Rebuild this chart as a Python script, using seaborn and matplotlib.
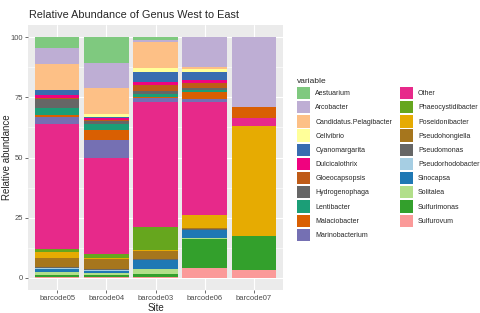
import pandas as pd
import matplotlib
matplotlib.use("Agg")
import matplotlib.pyplot as plt
import seaborn as sns
from matplotlib.patches import Patch
from matplotlib.ticker import MultipleLocator

sns.set_theme(style="darkgrid", rc={
    "axes.facecolor": "#EBEBEB",
    "grid.color": "white",
    "axes.edgecolor": "#EBEBEB",
})
plt.rcParams["font.family"] = ["Liberation Sans", "DejaVu Sans"]

sites = ["barcode05", "barcode04", "barcode03", "barcode06", "barcode07"]
genera = ["Aestuarium", "Arcobacter", "Candidatus.Pelagibacter", "Cellvibrio",
          "Cyanomargarita", "Dulcicalothrix", "Gloeocapsopsis", "Hydrogenophaga",
          "Lentibacter", "Malaciobacter", "Marinobacterium", "Other",
          "Phaeocystidibacter", "Poseidonibacter", "Pseudohongiella", "Pseudomonas",
          "Pseudorhodobacter", "Sinocapsa", "Solitalea", "Sulfurimonas", "Sulfurovum"]
cores = ["#7FC97F", "#BEAED4", "#FDC086", "#FFFF99", "#386CB0", "#F0027F",
         "#BF5B17", "#666666", "#1B9E77", "#D95F02", "#7570B3", "#E7298A",
         "#66A61E", "#E6AB02", "#A6761D", "#666666", "#A6CEE3", "#1F78B4",
         "#B2DF8A", "#33A02C", "#FB9A99"]

# abundancia (%) por genero, na ordem de 'genera'
barcode05 = [4.5, 6.5, 11.0, 0.0, 2.2, 1.2, 0.5, 3.5, 2.8, 1.0, 2.8, 51.8,
             1.5, 2.3, 3.7, 0.6, 0.2, 1.3, 1.2, 0.8, 0.6]
barcode04 = [10.8, 10.5, 10.7, 1.3, 0.3, 0.8, 0.6, 1.2, 2.5, 4.1, 7.5, 39.8,
             1.6, 0.5, 3.9, 0.8, 0.4, 0.7, 0.7, 1.0, 0.3]
barcode03 = [1.2, 0.8, 11.0, 1.4, 4.1, 1.4, 2.4, 1.4, 1.3, 0.3, 1.8, 51.8,
             9.4, 0.4, 3.4, 0.3, 0.3, 3.5, 2.0, 1.3, 0.5]
barcode06 = [0.0, 12.3, 1.0, 1.4, 3.0, 1.4, 2.2, 0.7, 1.0, 2.7, 1.4, 46.6,
             0.3, 5.4, 0.3, 0.2, 0.0, 3.7, 0.2, 12.2, 4.0]
barcode07 = [0.0, 29.2, 0.0, 0.0, 0.0, 0.0, 0.0, 0.0, 0.0, 4.5, 0.0, 3.1,
             0.0, 45.9, 0.0, 0.0, 0.0, 0.0, 0.0, 13.8, 3.5]

df = pd.DataFrame({"barcode05": barcode05, "barcode04": barcode04,
                   "barcode03": barcode03, "barcode06": barcode06,
                   "barcode07": barcode07}, index=genera)
# empilhamento estilo ggplot: primeiro nivel no topo, ultimo na base
cum = df.iloc[::-1].cumsum().iloc[::-1]

fig = plt.figure(figsize=(4.8, 3.13), dpi=100)
ax = fig.add_axes([28 / 480, 23 / 313, 255 / 480, 265 / 313])

for g, c in zip(genera, cores):
    sns.barplot(x=sites, y=cum.loc[g].values, color=c, saturation=1,
                width=0.9, linewidth=0, ax=ax, order=sites)

ax.set_xlim(-0.6, 4.6)
ax.set_ylim(-5, 105)
ax.yaxis.set_major_locator(MultipleLocator(25))
ax.yaxis.set_minor_locator(MultipleLocator(12.5))
ax.grid(which="major", color="white", linewidth=0.8)
ax.grid(which="minor", axis="y", color="white", linewidth=0.4)
ax.set_axisbelow(True)
ax.tick_params(which="major", length=2, width=0.5, color="#333333",
               labelsize=5.5, labelcolor="#4D4D4D", pad=1.5, bottom=True, left=True)
ax.tick_params(which="minor", length=0)
for s in ax.spines.values():
    s.set_visible(False)

ax.set_xlabel("Site", fontsize=7, labelpad=1)
ax.set_ylabel("Relative abundance", fontsize=7)
ax.yaxis.set_label_coords(-0.062, 0.5)
fig.text(29 / 480, 0.952, "Relative Abundance of Genus West to East",
         fontsize=7.8, va="center", ha="left")

handles = [Patch(facecolor=c, edgecolor="none", label=g) for g, c in zip(genera, cores)]
leg = fig.legend(handles=handles, ncol=2, loc="upper left",
                 bbox_to_anchor=(297 / 480, 1 - 78 / 313), frameon=False,
                 fontsize=5, title="variable", title_fontsize=6,
                 handlelength=1.93, handleheight=2.35, labelspacing=0.27,
                 handletextpad=0.72, columnspacing=1.05, borderpad=0,
                 borderaxespad=0)
leg._legend_box.align = "left"

fig.savefig("out.png", dpi=100)
